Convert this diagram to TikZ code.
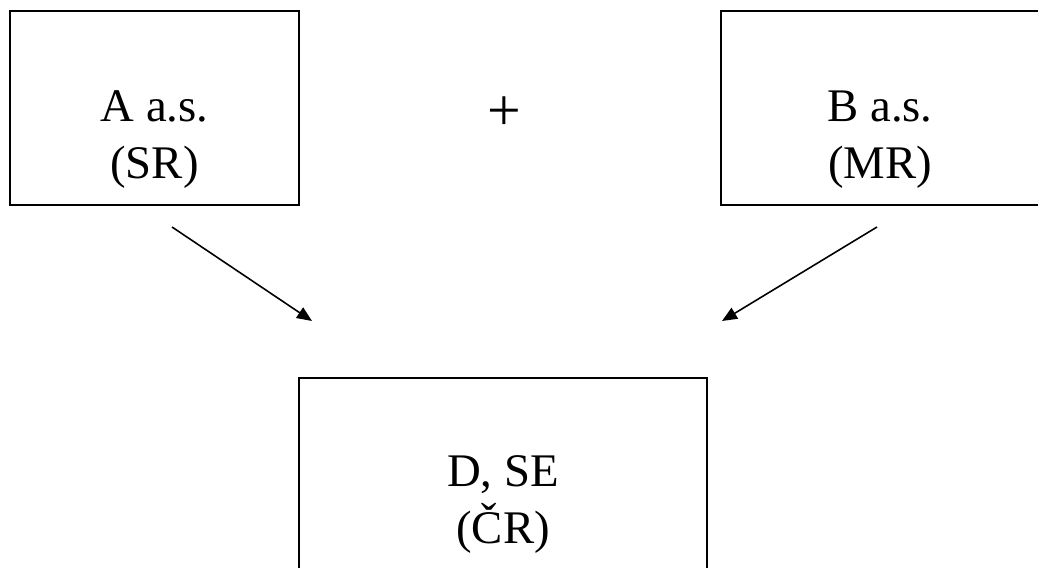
\documentclass[tikz,border=0pt]{standalone}
\usepackage{fontspec}
\setmainfont{Liberation Serif}
\usepackage{tikz}
\newcommand{\boxheight}{3.88cm}
\usetikzlibrary{arrows.meta,positioning}
\tikzset{
  font=\fontsize{26.6}{32.3}\selectfont,
  rect/.style={draw,shape=rectangle,line width=1.1pt,minimum height=\boxheight,inner sep=0},
  label/.style={align=center,inner sep=0},
  line/.style={draw,line width=0.9pt,-{Triangle[length=0.3cm,width=0.25cm]}},
}
\begin{document}
\begin{tikzpicture}
    \useasboundingbox (0,0) rectangle (20.76,11.34);

    % the three companies
    \node (sr) [rect,minimum width=5.78cm] at (3.09,9.18) {};
    \node (mr) [rect,minimum width=6.44cm] at (17.64,9.18) {};
    \node (cr) [rect,minimum width=8.16cm] at (10.06,1.84) {};

    \node (srtext) [label] at (3.09,8.55) {A a.s.\\(SR)};
    \node (mrtext) [label] at (17.60,8.55) {B a.s.\\(MR)};
    \node (crtext) [label] at (10.06,1.25) {D, SE\\(ČR)};
    \node (plus) [label,font=\fontsize{34}{40}\selectfont] at (10.08,9.06) {+};

    % merger arrows
    \coordinate (srfrom) at (3.44,6.80);
    \coordinate (srto) at (6.24,4.92);
    \coordinate (mrfrom) at (17.54,6.80);
    \coordinate (mrto) at (14.44,4.92);
    \path [line] (srfrom) -- (srto);
    \path [line] (mrfrom) -- (mrto);
\end{tikzpicture}
\end{document}
